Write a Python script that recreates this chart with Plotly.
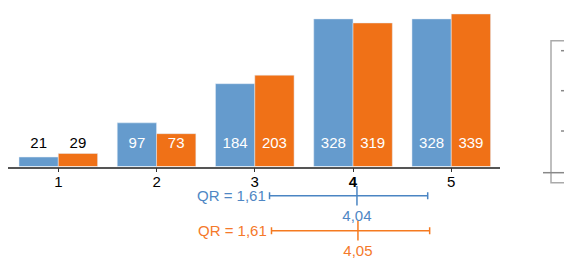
import plotly.graph_objects as go

categories = [1, 2, 3, 4, 5]
tick_labels = ["1", "2", "3", "<b>4</b>", "5"]
blue_values = [21, 97, 184, 328, 328]
orange_values = [29, 73, 203, 319, 339]

qr_labels = ["QR = 1,61", "QR = 1,61"]
q1_values = [3.15, 3.17]
median_values = [4.04, 4.05]
q3_values = [4.76, 4.78]

BLUE = "#659bcd"
ORANGE = "#f07117"
BLUE_TXT = "#4f87c4"
ORANGE_TXT = "#f5792a"
FONT = "Liberation Sans, Arial, sans-serif"
FS = 15

W, H = 564, 260
base_px = 166.5
scale = 0.45  # px per unit

fig = go.Figure()
fig.add_trace(go.Bar(x=categories, y=blue_values, marker_color=BLUE, hoverinfo="skip"))
fig.add_trace(go.Bar(x=categories, y=orange_values, marker_color=ORANGE, hoverinfo="skip"))

# bar value labels
lab_x, lab_t, lab_c = [], [], []
for c, b, o in zip(categories, blue_values, orange_values):
    for off, v in ((-0.2, b), (0.2, o)):
        lab_x.append(c + off)
        lab_t.append(str(v))
        lab_c.append("white" if v > 60 else "black")
fig.add_trace(go.Scatter(x=lab_x, y=[49] * len(lab_x), mode="text", text=lab_t,
                         textfont=dict(color=lab_c, size=FS, family=FONT),
                         cliponaxis=False, hoverinfo="skip"))

# QR rows
row_line_y = [260 - 195.7, 260 - 230.7]
row_text_y = [260 - 217.7, 260 - 252.7]
for i, (lbl, q1, med, q3, col, tcol) in enumerate(zip(qr_labels, q1_values, median_values, q3_values,
                                                       ["#4a85c3", "#f57a20"], [BLUE_TXT, ORANGE_TXT])):
    fig.add_trace(go.Scatter(
        x=[med], y=[row_line_y[i]], mode="markers", xaxis="x", yaxis="y2",
        marker=dict(symbol="line-ns", size=14, line=dict(color=col, width=1.5), color=col),
        error_x=dict(type="data", symmetric=False, array=[q3 - med], arrayminus=[med - q1],
                     color=col, thickness=1.5, width=3.5),
        cliponaxis=False, hoverinfo="skip"))
    fig.add_trace(go.Scatter(
        x=[med], y=[row_text_y[i]], mode="text", xaxis="x", yaxis="y2",
        text=[f"{med:.2f}".replace(".", ",")],
        textfont=dict(color=tcol, size=FS, family=FONT), cliponaxis=False, hoverinfo="skip"))
    fig.add_annotation(x=q1, y=row_line_y[i], xref="x", yref="y2", text=lbl, showarrow=False,
                       xanchor="right", yanchor="middle", xshift=-2,
                       font=dict(color=tcol, size=FS, family=FONT))

x0_px, x1_px = 8.2, 500.4
bottom_frac = (H - base_px) / H
fig.update_layout(
    width=W, height=H, margin=dict(l=0, r=0, t=0, b=0),
    paper_bgcolor="white", plot_bgcolor="white",
    showlegend=False, barmode="group", bargap=0.2, bargroupgap=0,
    font=dict(family=FONT, size=FS, color="black"),
    xaxis=dict(domain=[x0_px / W, x1_px / W], range=[0.49, 5.5], tickvals=categories,
               ticktext=tick_labels, showline=True, linecolor="#555", linewidth=1.5,
               ticks="outside", ticklen=4, tickcolor="#333", tickwidth=1,
               ticklabelstandoff=-3,
               showgrid=False, zeroline=False, anchor="y", automargin=False,
               tickfont=dict(size=FS, color="black", family=FONT)),
    yaxis=dict(domain=[bottom_frac, 1], range=[0, base_px / scale], visible=False,
               showgrid=False, zeroline=False),
    yaxis2=dict(domain=[0, 0.34], range=[0, 0.34 * H], visible=False,
                showgrid=False, zeroline=False, anchor="x"),
)

# partial box on the right edge
def py(px):
    return (H - px) / H

def pxx(px):
    return px / W

fig.add_shape(type="rect", xref="paper", yref="paper", x0=pxx(551), x1=pxx(600),
              y0=py(182.7), y1=py(40.7), line=dict(color="#aaaaaa", width=1.5))
for ty in (50.7, 90.7, 131):
    fig.add_shape(type="line", xref="paper", yref="paper", x0=pxx(561), x1=pxx(570),
                  y0=py(ty), y1=py(ty), line=dict(color="#888888", width=1.5))
fig.add_shape(type="line", xref="paper", yref="paper", x0=pxx(543), x1=pxx(570),
              y0=py(172.7), y1=py(172.7), line=dict(color="#888888", width=1.5))

fig.write_html("out.html", config={"displayModeBar": False},
               post_script="document.body.style.margin='0';document.body.style.overflow='hidden';")
